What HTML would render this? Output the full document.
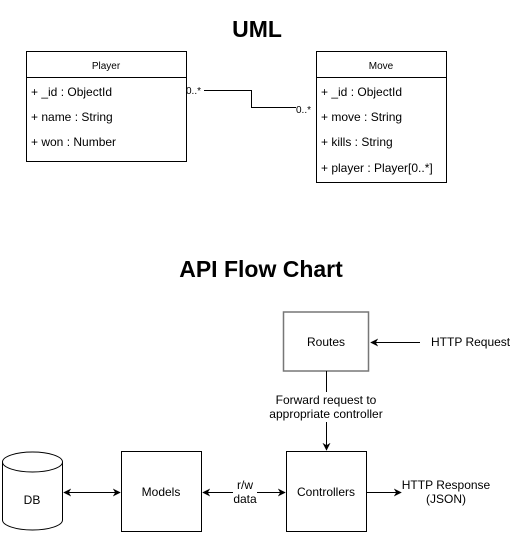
<!DOCTYPE html>
<html><head><meta charset="utf-8"><style>
html,body{margin:0;padding:0;background:#fff;}
svg{display:block;}
text{font-family:"Liberation Sans",Arial,sans-serif;fill:#000;}
</style></head><body>
<svg width="523" height="533" viewBox="0 0 523 533" xmlns="http://www.w3.org/2000/svg">
<defs>
<marker id="a" viewBox="0 0 10 10" refX="9" refY="5" markerWidth="8" markerHeight="8" orient="auto-start-reverse">
<path d="M0,0 L10,5 L0,10 L3,5 z" fill="#000"/></marker>
</defs>
<text x="257" y="37" font-size="23" font-weight="bold" text-anchor="middle">UML</text>
<text x="261" y="277" font-size="23" font-weight="bold" text-anchor="middle">API Flow Chart</text>

<rect x="26.5" y="51.5" width="160" height="110" fill="#fff" stroke="#000"/>
<line x1="26.5" y1="77.5" x2="186.5" y2="77.5" stroke="#000"/>
<text x="106" y="69" font-size="10" text-anchor="middle">Player</text>
<text x="31" y="96" font-size="12">+ _id : ObjectId</text>
<text x="31" y="121" font-size="12">+ name : String</text>
<text x="31" y="146" font-size="12">+ won : Number</text>

<rect x="316.5" y="51.5" width="130" height="131" fill="#fff" stroke="#000"/>
<line x1="316.5" y1="77.5" x2="446.5" y2="77.5" stroke="#000"/>
<text x="381" y="69" font-size="10" text-anchor="middle">Move</text>
<text x="321" y="96" font-size="12">+ _id : ObjectId</text>
<text x="321" y="121" font-size="12">+ move : String</text>
<text x="321" y="146" font-size="12">+ kills : String</text>
<text x="321" y="172" font-size="12">+ player : Player[0..*]</text>

<polyline points="204,90.5 251.5,90.5 251.5,107.5 296,107.5" fill="none" stroke="#000"/>
<text x="186" y="94" font-size="10">0..*</text>
<text x="296" y="113" font-size="10">0..*</text>

<rect x="283.5" y="312" width="85" height="59" fill="#fff" stroke="#777" stroke-width="1.5"/>
<text x="326" y="346" font-size="12" text-anchor="middle">Routes</text>
<line x1="420" y1="342.5" x2="371" y2="342.5" stroke="#000" marker-end="url(#a)"/>
<text x="431" y="346" font-size="12">HTTP Request</text>
<line x1="326.5" y1="371" x2="326.5" y2="392" stroke="#000"/>
<text x="326" y="404" font-size="12" text-anchor="middle">Forward request to</text>
<text x="326" y="418" font-size="12" text-anchor="middle">appropriate controller</text>
<line x1="326.5" y1="422" x2="326.5" y2="450" stroke="#000" marker-end="url(#a)"/>

<rect x="286.5" y="451.5" width="80" height="80" fill="#fff" stroke="#000"/>
<text x="326" y="496" font-size="12" text-anchor="middle">Controllers</text>
<line x1="367" y1="492.5" x2="401" y2="492.5" stroke="#000" marker-end="url(#a)"/>
<text x="446" y="489" font-size="12" text-anchor="middle">HTTP Response</text>
<text x="446" y="503" font-size="12" text-anchor="middle">(JSON)</text>

<rect x="121.5" y="451.5" width="80" height="80" fill="#fff" stroke="#000"/>
<text x="161" y="496" font-size="12" text-anchor="middle">Models</text>
<line x1="203" y1="492.5" x2="233" y2="492.5" stroke="#000" marker-start="url(#a)"/>
<line x1="257" y1="492.5" x2="285" y2="492.5" stroke="#000" marker-end="url(#a)"/>
<text x="245" y="489" font-size="12" text-anchor="middle">r/w</text>
<text x="245" y="503" font-size="12" text-anchor="middle">data</text>

<path d="M2.5,462 L2.5,520 A30,10 0 0 0 62.5,520 L62.5,462" fill="#fff" stroke="#000"/>
<ellipse cx="32.5" cy="462" rx="30" ry="10" fill="#fff" stroke="#000"/>
<text x="32" y="504" font-size="12" text-anchor="middle">DB</text>
<line x1="64" y1="492.5" x2="120" y2="492.5" stroke="#000" marker-start="url(#a)" marker-end="url(#a)"/>
</svg>
</body></html>
